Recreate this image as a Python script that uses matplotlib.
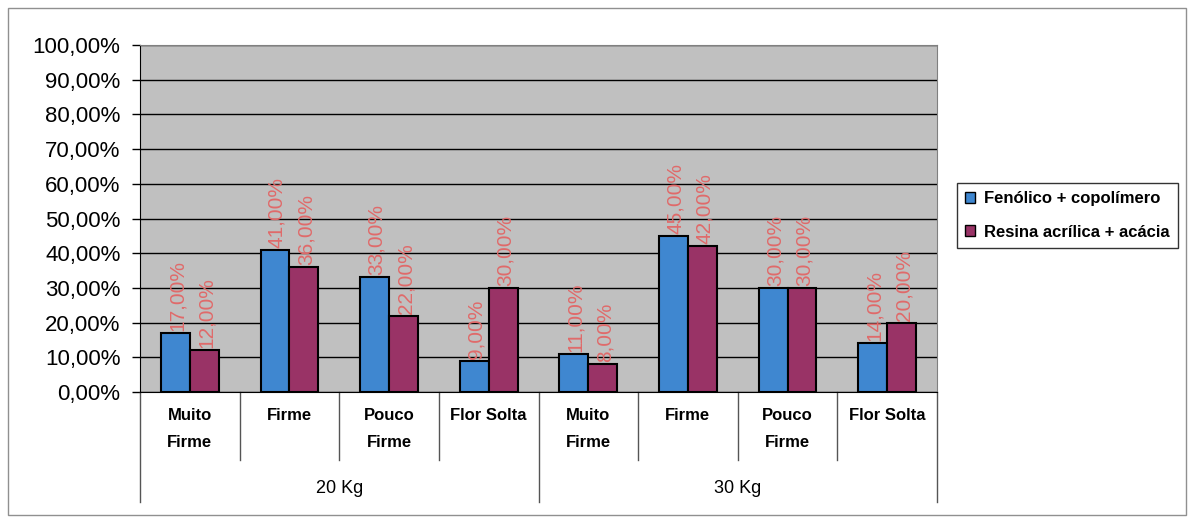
import matplotlib
matplotlib.use("Agg")
import matplotlib.pyplot as plt
from matplotlib.patches import Rectangle, Patch
import numpy as np

plt.rcParams['font.family'] = ['Liberation Sans', 'DejaVu Sans']

groups = ["20 Kg", "30 Kg"]
categories = ["Muito\nFirme", "Firme", "Pouco\nFirme", "Flor Solta"]
series_names = ["Fenólico + copolímero", "Resina acrílica + acácia"]
fenolico = [17, 41, 33, 9, 11, 45, 30, 14]
resina = [12, 36, 22, 30, 8, 42, 30, 20]
yticks = [0, 10, 20, 30, 40, 50, 60, 70, 80, 90, 100]

blue = "#3f87d0"
purple = "#993366"
label_red = "#e06a6a"

fig = plt.figure(figsize=(11.94, 5.21), dpi=100)
ax = fig.add_axes([140/1194, (521-392)/521, (937-140)/1194, 347/521])
ax.set_facecolor("#c0c0c0")

n = len(fenolico)
x = np.arange(n)
w = 0.29
b1 = ax.bar(x - w/2, fenolico, w, color=blue, edgecolor="black", linewidth=1.5, zorder=3)
b2 = ax.bar(x + w/2, resina, w, color=purple, edgecolor="black", linewidth=1.5, zorder=3)

def fmt(v):
    return f"{v:.2f}".replace(".", ",") + "%"

for bars, vals in ((b1, fenolico), (b2, resina)):
    for r, v in zip(bars, vals):
        ax.text(r.get_x() + r.get_width()/2 + 0.02, v + 0.6, fmt(v), rotation=90,
                ha="center", va="bottom", color=label_red, fontsize=15, zorder=4)

ax.set_xlim(-0.5, n - 0.5)
ax.set_ylim(0, 100)
ax.set_yticks(yticks)
ax.set_yticklabels([fmt(v) for v in yticks], fontsize=16)
ax.yaxis.grid(True, color="black", linewidth=1.0, zorder=1)
ax.set_axisbelow(True)
ax.tick_params(axis="y", direction="out", length=6, width=1, pad=8)
ax.set_xticks([])
for s in ["top", "right"]:
    ax.spines[s].set_color("#808080")
ax.spines["left"].set_color("black")
ax.spines["bottom"].set_color("black")

trans = ax.get_xaxis_transform()
# category separators
for i in range(n + 1):
    is_group = (i % 4 == 0)
    ax.plot([i - 0.5, i - 0.5], [0, -0.317 if is_group else -0.196], transform=trans,
            color="#555555", linewidth=1, clip_on=False)
for i in range(n):
    ax.text(i, -0.045, categories[i % 4], transform=trans, ha="center", va="top",
            fontsize=12, fontweight="bold", linespacing=2.0)
for g, name in enumerate(groups):
    ax.text(g * 4 + 1.5, -0.277, name, transform=trans, ha="center", va="center", fontsize=13)

handles = [Patch(facecolor=blue, edgecolor="black", label=series_names[0]),
           Patch(facecolor=purple, edgecolor="black", label=series_names[1])]
leg = fig.legend(handles=handles, loc="upper left", bbox_to_anchor=(957/1194, 1 - 183/521),
                 frameon=True, fancybox=False, prop={"size": 12, "weight": "bold"},
                 handlelength=0.6, handleheight=0.6,
                 handletextpad=0.5, borderpad=0.5, labelspacing=1.1, borderaxespad=0)
leg.get_frame().set_edgecolor("black")
leg.get_frame().set_linewidth(1)

fig.patches.append(Rectangle((8/1194, 6/521), 1178/1194, 507/521, transform=fig.transFigure,
                             fill=False, edgecolor="#909090", linewidth=1))

fig.savefig("out.png", dpi=100)
